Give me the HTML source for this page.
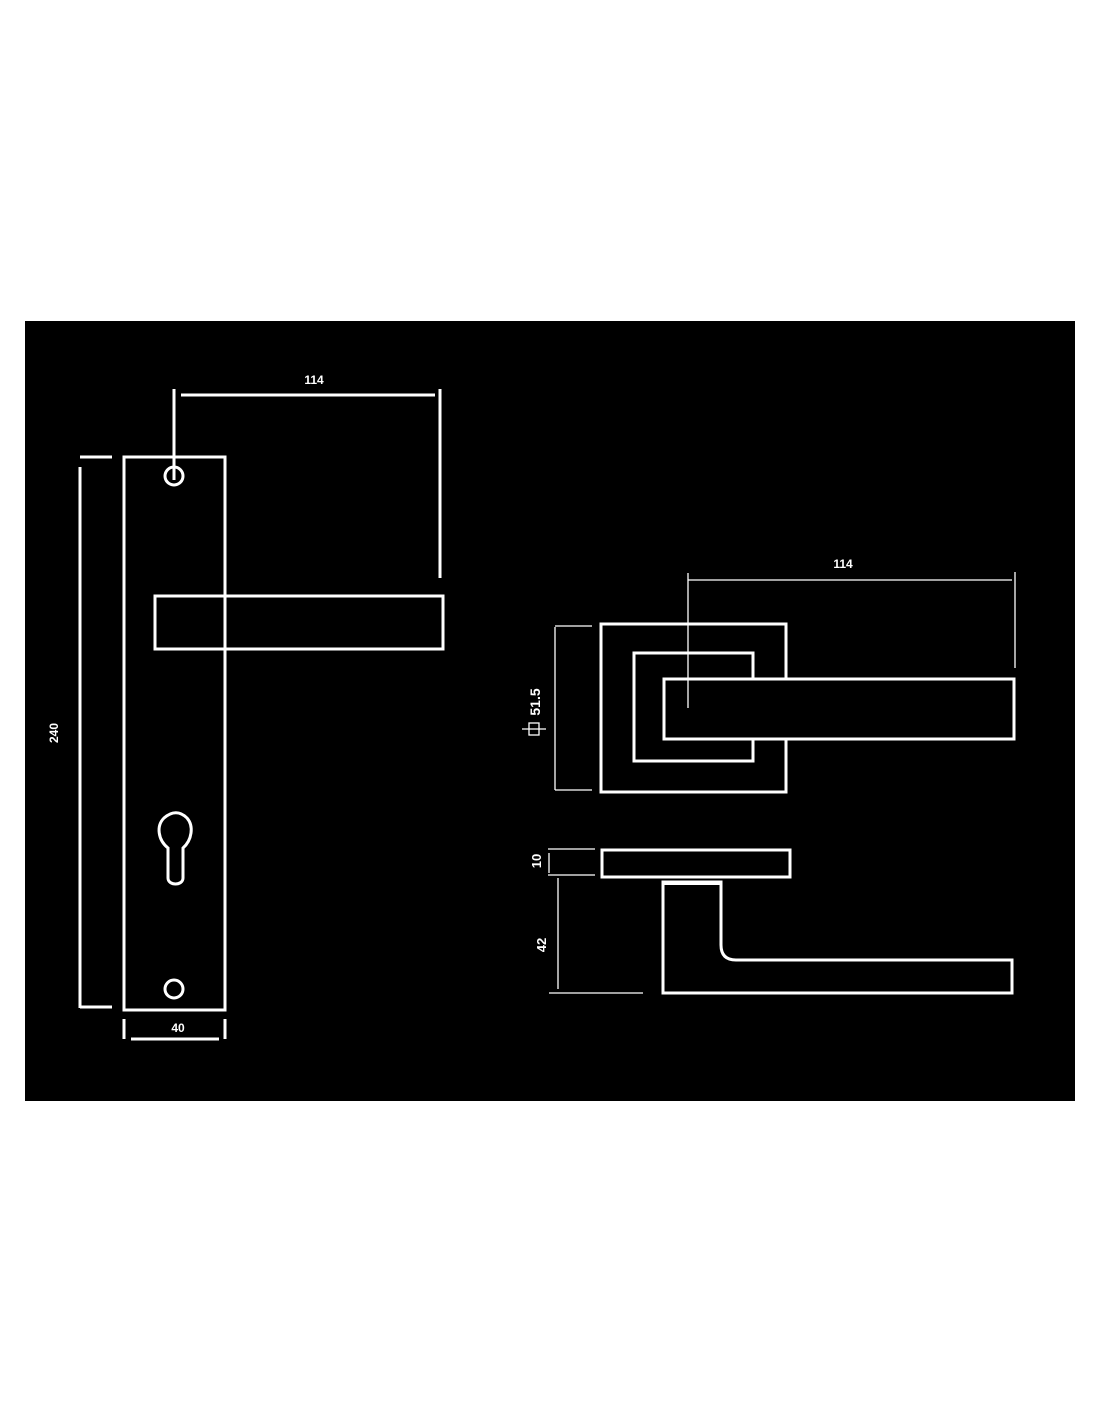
<!DOCTYPE html>
<html><head><style>body{margin:0;background:#fff}svg{display:block}</style></head><body>
<svg width="1100" height="1422" xmlns="http://www.w3.org/2000/svg">
<rect x="25" y="321" width="1050" height="780" fill="#000"/>
<g stroke="#fff" fill="none" stroke-width="3">
<rect x="124" y="457" width="101" height="553"/>
<line x1="174" y1="389" x2="174" y2="480"/>
<line x1="181" y1="395" x2="435" y2="395"/>
<line x1="440" y1="389" x2="440" y2="578"/>
<rect x="155" y="596" width="288" height="53"/>
<circle cx="174" cy="476" r="9"/>
<line x1="80" y1="467" x2="80" y2="1008"/>
<line x1="80" y1="457" x2="112" y2="457"/>
<line x1="80" y1="1007" x2="112" y2="1007"/>
<path d="M168 848 C158 840 156 826 164 818 C172 811 180 811 187 818 C194 826 192 840 183 848 L183 878 C183 886 168 886 168 878 Z"/>
<circle cx="174" cy="989" r="9"/>
<line x1="124" y1="1019" x2="124" y2="1039"/>
<line x1="225" y1="1019" x2="225" y2="1039"/>
<line x1="131" y1="1039" x2="219" y2="1039"/>
<rect x="601" y="624" width="185" height="168"/>
<rect x="634" y="653" width="119" height="108"/>
<rect x="664" y="679" width="350" height="60" fill="#000"/>
<rect x="602" y="850" width="188" height="27"/>
<path d="M663 882 L663 993 L1012 993 L1012 960 L736 960 Q721 960 721 945 L721 882 Z"/>
<line x1="663" y1="883" x2="721" y2="883" stroke-width="4"/>
</g>
<g stroke="#fff" fill="none" stroke-width="1.3">
<line x1="688" y1="573" x2="688" y2="708"/>
<line x1="688" y1="580" x2="1012" y2="580"/>
<line x1="1015" y1="572" x2="1015" y2="668"/>
<line x1="555" y1="627" x2="555" y2="790"/>
<line x1="555" y1="626" x2="592" y2="626"/>
<line x1="555" y1="790" x2="592" y2="790"/>
<rect x="529" y="723" width="10" height="12"/>
<line x1="522" y1="729" x2="546" y2="729"/>
<line x1="548" y1="849" x2="595" y2="849"/>
<line x1="548" y1="875" x2="595" y2="875"/>
<line x1="549" y1="853" x2="549" y2="873"/>
<line x1="549" y1="993" x2="643" y2="993"/>
<line x1="558" y1="878" x2="558" y2="989"/>
</g>
<g fill="#fff" font-family="Liberation Sans, sans-serif" font-weight="bold" font-size="12" text-anchor="middle">
<text x="314" y="384">114</text>
<text x="843" y="568">114</text>
<text x="178" y="1032">40</text>
<text transform="translate(58,733) rotate(-90)">240</text>
<text transform="translate(540,702) rotate(-90)" font-size="14">51.5</text>
<text transform="translate(541,861) rotate(-90)" font-size="13">10</text>
<text transform="translate(546,945) rotate(-90)" font-size="13">42</text>
</g>
</svg>
</body></html>
